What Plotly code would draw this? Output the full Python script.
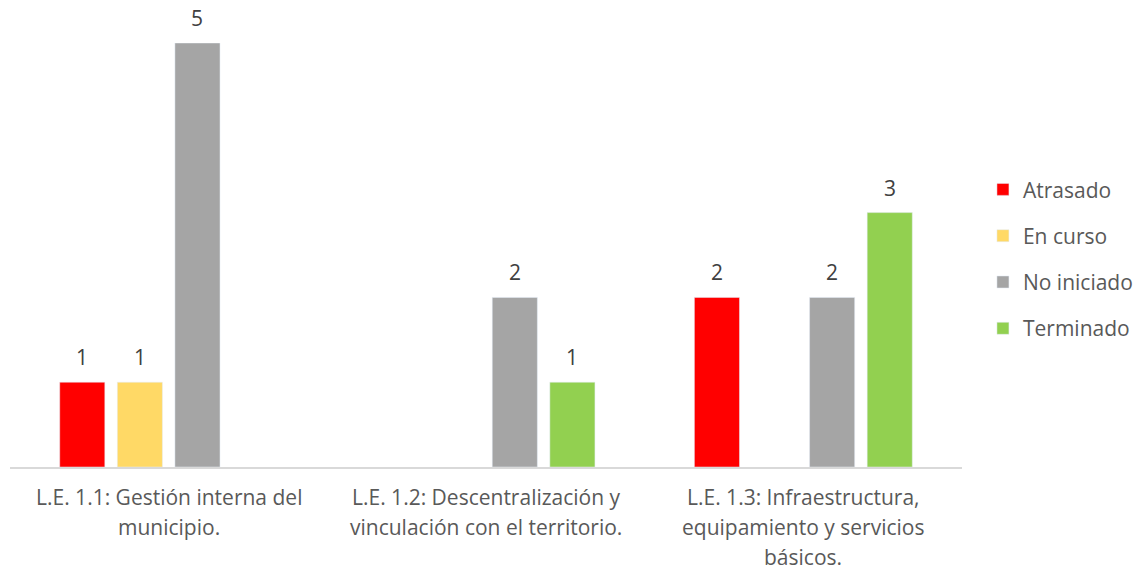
import plotly.graph_objects as go

categories = ["L.E. 1.1: Gestión interna del<br>municipio.",
              "L.E. 1.2: Descentralización y<br>vinculación con el territorio.",
              "L.E. 1.3: Infraestructura,<br>equipamiento y servicios<br>básicos."]
series_names = ["Atrasado", "En curso", "No iniciado", "Terminado"]
atrasado = [1, None, 2]
en_curso = [1, None, None]
no_iniciado = [5, 2, 2]
terminado = [None, 1, 3]
colors = ["#FF0000", "#FFD966", "#A5A5A5", "#92D050"]

FONT = "Open Sans, Lato, sans-serif"
FS = 21
BARGAP = 0.274
BARGROUPGAP = 0.217
all_series = [atrasado, en_curso, no_iniciado, terminado]

fig = go.Figure()
for name, vals, col in zip(series_names, all_series, colors):
    fig.add_trace(go.Bar(
        x=list(range(len(categories))), y=vals, name=name, marker_color=col,
        legendgroup=name,
    ))

annotations = []
# value labels above bars, positioned from the group layout
n = len(all_series)
slot = (1 - BARGAP) / n
for i, vals in enumerate(all_series):
    off = -(1 - BARGAP) / 2 + slot * (i + 0.5)
    for ci, v in enumerate(vals):
        if v is None:
            continue
        annotations.append(dict(
            x=ci + off, y=v, xref="x", yref="y", text=str(v), showarrow=False,
            yanchor="bottom", yshift=9, font=dict(family=FONT, size=FS, color="#404040")))
# category labels, line by line
for ci, cat in enumerate(categories):
    for li, line in enumerate(cat.split("<br>")):
        annotations.append(dict(
            x=ci, y=0, xref="x", yref="paper", text=line, showarrow=False,
            yanchor="middle", yshift=-30 - 30 * li,
            font=dict(family=FONT, size=FS, color="#595959")))

fig.update_layout(
    width=1133, height=561,
    margin=dict(l=2, r=179, t=35, b=102, autoexpand=False),
    paper_bgcolor="white", plot_bgcolor="white",
    barmode="group", bargap=BARGAP, bargroupgap=BARGROUPGAP,
    font=dict(family=FONT, size=FS, color="#595959"),
    showlegend=True,
    legend=dict(x=1.022, y=0.49, xanchor="left", yanchor="middle",
                font=dict(family=FONT, size=FS, color="#595959"), tracegroupgap=16,
                itemwidth=30),
    annotations=annotations,
    xaxis=dict(showline=True, linecolor="#D9D9D9", linewidth=1.5, showgrid=False,
               ticks="", showticklabels=False, range=[-0.5, 2.5], automargin=False),
    yaxis=dict(range=[0, 5], visible=False, showgrid=False, automargin=False),
)
fig.write_html("out.html")
